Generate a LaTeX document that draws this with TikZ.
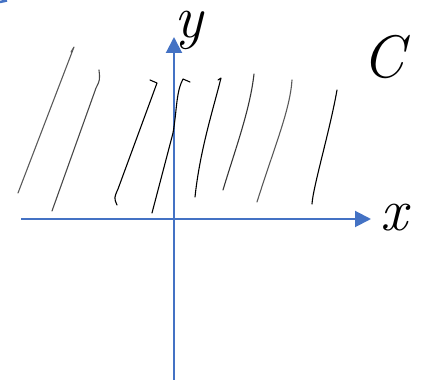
\documentclass[tikz,border=0pt]{standalone}
\usetikzlibrary{arrows.meta}
\definecolor{axisblue}{RGB}{68,114,196}
\definecolor{pengray}{RGB}{90,90,90}
\begin{document}
\begin{tikzpicture}[
    x=1pt,
    y=-1pt,
    axis/.style={
        draw=axisblue,
        line width=2pt,
        -{Triangle[length=16pt,width=16pt]}
    },
    hatch/.style={line width=1.1pt, line cap=round, line join=round},
    lbl/.style={inner sep=0pt, font=\fontsize{60}{60}\selectfont\itshape}
]
    \useasboundingbox (0,0) rectangle (421,382);

    % axes
    \coordinate (xmin) at (21,219);
    \coordinate (xmax) at (371,219);
    \coordinate (ymin) at (174,380);
    \coordinate (ymax) at (174,37);
    \draw[axis] (xmin) -- (xmax);
    \draw[axis] (ymin) -- (ymax);

    \node[lbl] (ylab) at (189,30) {y};
    \node[lbl] (xlab) at (394,218) {x};
    \node[lbl] (clab) at (383,57) {C};

    % hatching of the upper half plane
    \draw[hatch, pengray] (18,193) -- (74,47) -- (71,52);
    \draw[hatch, pengray!80!black] (52,211) -- (96,88) .. controls (100,80) .. (99,70);
    \draw[hatch] (117,205) .. controls (114,198) .. (118,189) -- (157,83) -- (150,80);
    \draw[hatch] (152,213) -- (173,133) .. controls (177,110) and (176,92) .. (183,79) -- (190,82);
    \draw[hatch] (195,197) .. controls (200,150) and (213,110) .. (221,78) -- (218,80);
    \draw[hatch, pengray!60!black] (223,190) .. controls (235,150) and (250,110) .. (254,74);
    \draw[hatch, pengray] (257,202) .. controls (275,145) and (290,110) .. (292,80);
    \draw[hatch] (312,204) .. controls (313,187) and (330,130) .. (337,90);

    % corner mark
    \draw[axisblue, line width=2.5pt] (0,2) -- (7,0.5);
\end{tikzpicture}
\end{document}
